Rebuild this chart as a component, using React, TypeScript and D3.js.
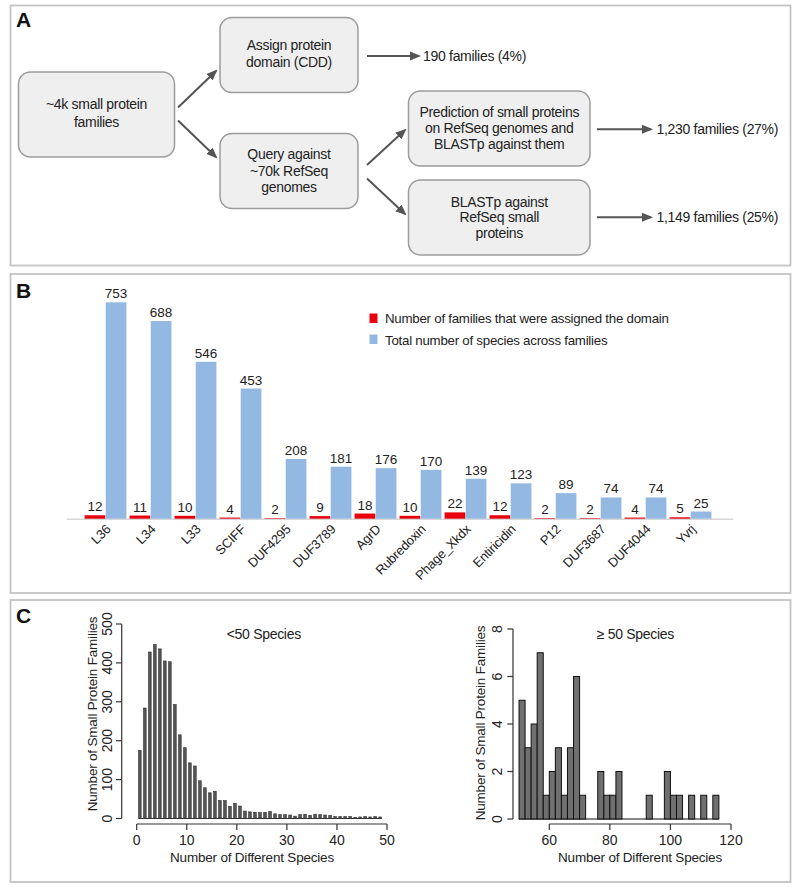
import React from "react";
import * as d3 from "d3";

// ---------- DATA ----------
const categories = ["L36", "L34", "L33", "SCIFF", "DUF4295", "DUF3789", "AgrD", "Rubredoxin", "Phage_Xkdx", "Entiricidin", "P12", "DUF3687", "DUF4044", "Yvrj"];
const familyCounts = [12, 11, 10, 4, 2, 9, 18, 10, 22, 12, 2, 2, 4, 5];
const speciesCounts = [753, 688, 546, 453, 208, 181, 176, 170, 139, 123, 89, 74, 74, 25];
const legendLabels = ["Number of families that were assigned the domain", "Total number of species across families"];

// species counts 1..49 (families with <50 species)
const histLeftSpecies = d3.range(1, 50);
const histLeftCounts = [175, 284, 428, 447, 436, 405, 403, 293, 215, 182, 143, 135, 97, 79, 66, 70, 46, 46, 31, 39, 32, 19, 17, 16, 15, 16, 18, 12, 10, 10, 9, 6, 10, 11, 8, 11, 10, 9, 8, 5, 5, 5, 5, 3, 4, 5, 4, 5, 4];
const histLeftTicksY = [0, 100, 200, 300, 400, 500];
const histLeftTicksX = [0, 10, 20, 30, 40, 50];

// bins of width 2 (families with >=50 species)
const histRightBinStarts = d3.range(50, 116, 2);
const histRightCounts = [5, 3, 4, 7, 1, 2, 3, 1, 3, 6, 1, 0, 0, 2, 1, 1, 2, 0, 0, 0, 0, 1, 0, 0, 2, 1, 1, 0, 1, 0, 1, 0, 1];
const histRightTicksY = [0, 2, 4, 6, 8];
const histRightTicksX = [60, 80, 100, 120];

const FONT = "'Liberation Sans', Arial, Helvetica, sans-serif";
const RED = "#e8000d";
const BLUE = "#93b9e2";

function Box({ x, y, w, h, lines, lineYs }: { x: number; y: number; w: number; h: number; lines: string[]; lineYs: number[] }) {
  return (
    <g>
      <rect x={x} y={y} width={w} height={h} rx={12} ry={12} fill="#efefef" stroke="#9c9c9c" strokeWidth={1.5} />
      {lines.map((t, i) => (
        <text key={i} x={x + w / 2} y={lineYs[i]} dy="0.35em" textAnchor="middle" fontSize={14} letterSpacing={-0.3} fill="#222">
          {t}
        </text>
      ))}
    </g>
  );
}

function Arrow({ x1, y1, x2, y2 }: { x1: number; y1: number; x2: number; y2: number }) {
  return <line x1={x1} y1={y1} x2={x2} y2={y2} stroke="#555" strokeWidth={2} markerEnd="url(#arrowhead)" />;
}

export default function App() {
  // ---- Panel B scales ----
  const xB = d3.scaleBand<string>().domain(categories).range([83, 713]).paddingInner(0.07).paddingOuter(0.035);
  const xSub = d3.scaleBand<string>().domain(["fam", "spe"]).range([0, xB.bandwidth()]).paddingInner(0.02);
  const yB = d3.scaleLinear().domain([0, 753]).range([518.7, 302.3]);

  // ---- Panel C left ----
  const xL = d3.scaleLinear().domain([0, 50]).range([136.7, 387]);
  const yL = d3.scaleLinear().domain([0, 500]).range([818.5, 624]);
  // ---- Panel C right ----
  const xR = d3.scaleLinear().domain([60, 120]).range([549.3, 731]);
  const yR = d3.scaleLinear().domain([0, 8]).range([819, 629]);

  return (
    <svg width={800} height={887} style={{ position: "absolute", left: 0, top: 0, background: "#fff" }} fontFamily={FONT}>
      <defs>
        <marker id="arrowhead" markerWidth={11} markerHeight={10} refX={9} refY={5} orient="auto" markerUnits="userSpaceOnUse">
          <path d="M0,0.5 L11,5 L0,9.5 Z" fill="#555" />
        </marker>
      </defs>
      <rect x={0} y={0} width={800} height={887} fill="#fff" />

      {/* Panel frames */}
      <rect x={10.5} y={5.5} width={780} height={260} fill="none" stroke="#c4c4c4" strokeWidth={1.8} />
      <rect x={10.5} y={274} width={780} height={319} fill="none" stroke="#c4c4c4" strokeWidth={1.8} />
      <rect x={10.5} y={600} width={780} height={282} fill="none" stroke="#c4c4c4" strokeWidth={1.8} />

      {/* ---------- Panel A ---------- */}
      <text x={16} y={27} fontSize={21} fontWeight="bold" fill="#111">A</text>
      <Box x={18.5} y={72} w={156} h={85} lines={["~4k small protein", "families"]} lineYs={[104, 122]} />
      <Box x={220} y={17.5} w={138} h={75} lines={["Assign protein", "domain (CDD)"]} lineYs={[45, 62]} />
      <Box x={220} y={133.5} w={138} h={75} lines={["Query against", "~70k RefSeq", "genomes"]} lineYs={[154, 171, 187]} />
      <Box x={408.5} y={91} w={181.5} h={75} lines={["Prediction of small proteins", "on RefSeq genomes and", "BLASTp against them"]} lineYs={[112.3, 128.3, 144]} />
      <Box x={408.5} y={180} w={181.5} h={75} lines={["BLASTp against", "RefSeq small", "proteins"]} lineYs={[201.7, 217.3, 232.7]} />

      <Arrow x1={178} y1={107.5} x2={216} y2={71} />
      <Arrow x1={178} y1={120.5} x2={216} y2={157} />
      <Arrow x1={367} y1={56} x2={419} y2={56} />
      <Arrow x1={367} y1={165} x2={405} y2={130} />
      <Arrow x1={367} y1={178.5} x2={405} y2={214} />
      <Arrow x1={597} y1={129.3} x2={651} y2={129.3} />
      <Arrow x1={597} y1={217.3} x2={651} y2={217.3} />

      <text x={423} y={56} dy="0.35em" fontSize={14} letterSpacing={-0.3} fill="#222">190 families (4%)</text>
      <text x={656.5} y={129.3} dy="0.35em" fontSize={14} letterSpacing={-0.3} fill="#222">1,230 families (27%)</text>
      <text x={656.5} y={217.3} dy="0.35em" fontSize={14} letterSpacing={-0.3} fill="#222">1,149 families (25%)</text>

      {/* ---------- Panel B ---------- */}
      <text x={16} y={298} fontSize={21} fontWeight="bold" fill="#111">B</text>
      <line x1={66.7} x2={733.3} y1={yB(0) + 0.5} y2={yB(0) + 0.5} stroke="#d6d6d6" strokeWidth={1.5} />
      {categories.map((c, i) => {
        const gx = xB(c) as number;
        const fx = gx + (xSub("fam") as number);
        const sx = gx + (xSub("spe") as number);
        const bw = xSub.bandwidth();
        const cx = gx + xB.bandwidth() / 2;
        return (
          <g key={c}>
            <rect x={fx} y={yB(familyCounts[i])} width={bw} height={yB(0) - yB(familyCounts[i])} fill={RED} />
            <rect x={sx} y={yB(speciesCounts[i])} width={bw} height={yB(0) - yB(speciesCounts[i])} fill={BLUE} />
            <text x={fx + bw / 2} y={yB(familyCounts[i]) - 4} textAnchor="middle" fontSize={13.5} fill="#222">{familyCounts[i]}</text>
            <text x={sx + bw / 2} y={yB(speciesCounts[i]) - 4} textAnchor="middle" fontSize={13.5} fill="#222">{speciesCounts[i]}</text>
            <text transform={`translate(${cx + 6},${530}) rotate(-45)`} textAnchor="end" fontSize={13} letterSpacing={-0.2} fill="#222">{c}</text>
          </g>
        );
      })}
      <rect x={369.5} y={313.5} width={8} height={9.5} fill={RED} />
      <rect x={369.5} y={334.5} width={8} height={9.5} fill={BLUE} />
      <text x={385} y={318.3} dy="0.35em" fontSize={13.3} letterSpacing={-0.25} fill="#222">{legendLabels[0]}</text>
      <text x={385} y={340} dy="0.35em" fontSize={13.3} letterSpacing={-0.25} fill="#222">{legendLabels[1]}</text>

      {/* ---------- Panel C ---------- */}
      <text x={16} y={623} fontSize={21} fontWeight="bold" fill="#111">C</text>

      {/* left histogram */}
      <line x1={xL(histLeftSpecies[0] - 0.4) - 1} x2={xL(49 - 0.35) + 1.5} y1={yL(0)} y2={yL(0)} stroke="#333" strokeWidth={1} />
      {histLeftSpecies.map((s, i) => {
        const cx = xL(s - 0.37);
        return (
          <rect key={s} x={cx - 1.3} y={yL(histLeftCounts[i])} width={2.6} height={yL(0) - yL(histLeftCounts[i])} fill="#555" stroke="#2a2a2a" strokeWidth={0.6} />
        );
      })}
      <line x1={121.7} x2={121.7} y1={yL(0)} y2={yL(500)} stroke="#333" strokeWidth={1.2} />
      {histLeftTicksY.map((t) => (
        <g key={t}>
          <line x1={116} x2={121.7} y1={yL(t)} y2={yL(t)} stroke="#333" strokeWidth={1.2} />
          <text transform={`translate(111.5,${yL(t)}) rotate(-90)`} textAnchor="middle" fontSize={14} fill="#222">{t}</text>
        </g>
      ))}
      <line x1={xL(0)} x2={xL(50)} y1={824} y2={824} stroke="#333" strokeWidth={1.2} />
      {histLeftTicksX.map((t) => (
        <g key={t}>
          <line x1={xL(t)} x2={xL(t)} y1={824} y2={830} stroke="#333" strokeWidth={1.2} />
          <text x={xL(t)} y={845} textAnchor="middle" fontSize={14} fill="#222">{t}</text>
        </g>
      ))}
      <text x={252} y={861.5} textAnchor="middle" fontSize={13.5} letterSpacing={-0.2} fill="#222">Number of Different Species</text>
      <text transform={`translate(96.5,714) rotate(-90)`} textAnchor="middle" fontSize={13.5} letterSpacing={-0.2} fill="#222">Number of Small Protein Families</text>
      <text x={226.7} y={634} dy="0.35em" fontSize={14} letterSpacing={-0.3} fill="#222">{"<50 Species"}</text>

      {/* right histogram */}
      <line x1={xR(50)} x2={xR(116)} y1={yR(0)} y2={yR(0)} stroke="#111" strokeWidth={1.2} />
      {histRightBinStarts.map((b, i) =>
        histRightCounts[i] > 0 ? (
          <rect key={b} x={xR(b)} y={yR(histRightCounts[i])} width={xR(b + 2) - xR(b)} height={yR(0) - yR(histRightCounts[i])} fill="#707070" stroke="#111" strokeWidth={1} />
        ) : null
      )}
      <line x1={513} x2={513} y1={yR(0)} y2={yR(8)} stroke="#333" strokeWidth={1.2} />
      {histRightTicksY.map((t) => (
        <g key={t}>
          <line x1={507.3} x2={513} y1={yR(t)} y2={yR(t)} stroke="#333" strokeWidth={1.2} />
          <text transform={`translate(501.7,${yR(t)}) rotate(-90)`} textAnchor="middle" fontSize={14} fill="#222">{t}</text>
        </g>
      ))}
      <line x1={xR(60)} x2={xR(120)} y1={824} y2={824} stroke="#333" strokeWidth={1.2} />
      {histRightTicksX.map((t) => (
        <g key={t}>
          <line x1={xR(t)} x2={xR(t)} y1={824} y2={830} stroke="#333" strokeWidth={1.2} />
          <text x={xR(t)} y={845} textAnchor="middle" fontSize={14} fill="#222">{t}</text>
        </g>
      ))}
      <text x={640} y={861.5} textAnchor="middle" fontSize={13.5} letterSpacing={-0.2} fill="#222">Number of Different Species</text>
      <text transform={`translate(485,723) rotate(-90)`} textAnchor="middle" fontSize={13.5} letterSpacing={-0.2} fill="#222">Number of Small Protein Families</text>
      <text x={596.7} y={634} dy="0.35em" fontSize={14} letterSpacing={-0.3} fill="#222">{"≥ 50 Species"}</text>
    </svg>
  );
}
